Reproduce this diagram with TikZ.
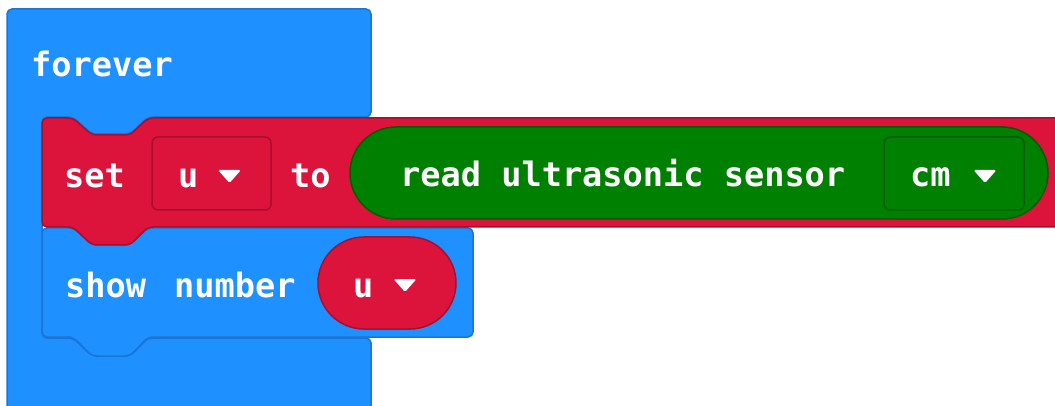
\documentclass[tikz,border=0pt]{standalone}
\usepackage{fontspec}
\setmonofont{DejaVu Sans Mono}
\definecolor{mbblue}{HTML}{1E90FF}
\definecolor{mbbluedark}{HTML}{1A76D2}
\definecolor{mbred}{HTML}{DC143C}
\definecolor{mbreddark}{HTML}{A80E2E}
\definecolor{mbgreen}{HTML}{008000}
\definecolor{mbgreendark}{HTML}{005E00}
\newcommand\ddarrow[2]{\fill[white,rounded corners=1.5pt] (#1-11.5,#2-6.5) -- (#1+11.5,#2-6.5) -- (#1,#2+6.5) -- cycle;}
\begin{document}
\begin{tikzpicture}[x=1pt,y=-1pt,
  txt/.style={text=white,font=\fontsize{33.6}{34}\selectfont\ttfamily\bfseries,inner sep=0pt,anchor=base west},
  blueblk/.style={fill=mbblue,draw=mbbluedark,line width=1.5pt,rounded corners=5pt},
  redblk/.style={fill=mbred,draw=mbreddark,line width=1.5pt,rounded corners=5pt},
  greenblk/.style={fill=mbgreen,draw=mbgreendark,line width=1.5pt},
  redbox/.style={fill=mbred,draw=mbreddark,line width=1.5pt,rounded corners=6pt},
  greenbox/.style={fill=mbgreen,draw=mbgreendark,line width=1.5pt,rounded corners=6pt}]
\useasboundingbox (0,0) rectangle (1055,406);
\clip (0,0) rectangle (1055,406);
\fill[white] (0,0) rectangle (1055,406);
% forever C-block
\draw[blueblk] (7,9) -- (371,9) -- (371,117) -- (148,117) -- (130,134) -- (92,134) -- (73,117) -- (42,117) -- (42,338) -- (73,338) -- (92,356) -- (130,356) -- (148,338) -- (371,338) -- (371,440) -- (7,440) -- cycle;
\node[txt] (forever) at (31,77) {forever};
% show number block
\draw[blueblk] (42,228) -- (73,228) -- (92,245) -- (130,245) -- (148,228) -- (473,228) -- (473,337) -- (148,337) -- (130,356) -- (92,356) -- (73,337) -- (42,337) -- cycle;
\node[txt] (show) at (65,297) {show};
\node[txt] (number) at (174,297) {number};
\draw[redblk,rounded corners=46pt] (318,237) rectangle (456,329);
\node[txt] (uvar2) at (353,297) {u};
\ddarrow{405}{285.5}
% set block
\draw[redblk] (42,118) -- (73,118) -- (92,135) -- (130,135) -- (148,118) -- (1080,118) -- (1080,227) -- (148,227) -- (130,245) -- (92,245) -- (73,227) -- (42,227) -- cycle;
\node[txt] (set) at (64,188) {set};
\draw[redbox] (152,137) rectangle (271,210);
\node[txt] (uvar) at (178,188) {u};
\ddarrow{229.5}{176.5}
\node[txt] (to) at (290,188) {to};
% ultrasonic reporter
\draw[greenblk,rounded corners=46pt] (350,127) rectangle (1048,219);
\node[txt] (read) at (400,187) {read ultrasonic sensor};
\draw[greenbox] (884,137) rectangle (1024,210);
\node[txt] (cm) at (910,187) {cm};
\ddarrow{985}{176.5}
\end{tikzpicture}
\end{document}
